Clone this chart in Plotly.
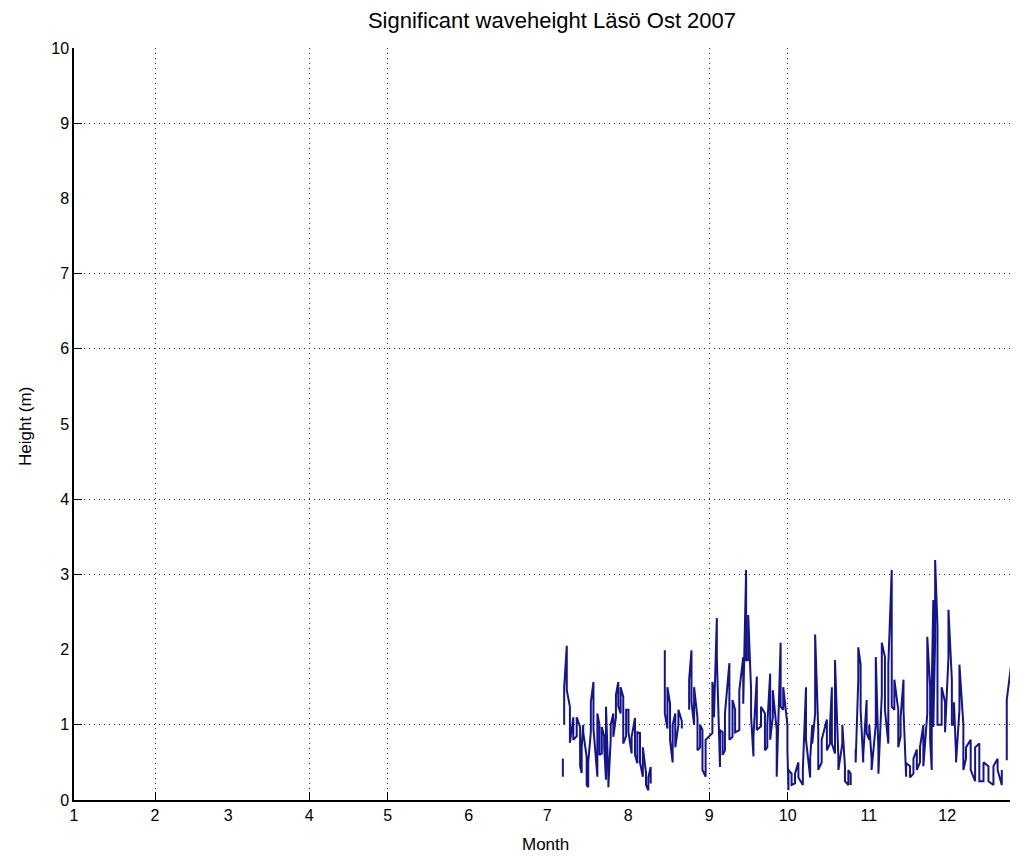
import plotly.graph_objects as go

# ---- data (day of year 2007, significant wave height m) ----
# each entry is one near-vertical stroke of the hourly record: start value -> end value
# None marks a gap in the record
days = [188.0, None,
        188.5, 189.5, 190.7, 192.0, 193.3, 194.6, 195.2, 195.8, 197.1, 197.7,
        198.7, 199.7, 201.2, 202.0, 202.9, 203.8, 204.5, 205.4, 206.3, 207.3,
        208.3, 209.2, 210.1, 211.1, 212.2, 213.1, 214.3, 215.6, 216.5, 217.5,
        218.6, 219.8, 220.7, 221.6, None,
        227.0, 228.0, 229.0, 230.0, 231.0, 232.2, 233.5, None,
        236.3, 237.2, 238.2, 239.5, 240.5, 241.4, 242.6, 245.2, 245.8, 246.9,
        248.1, 249.1, 250.0, 251.7, 252.9, 253.9, 255.5, 257.0, 258.1, 258.9,
        260.0, 260.9, 262.2, 263.8, 265.3, 266.2, 267.3, 268.3, 269.8, 271.3,
        272.3, 273.9, 274.3, 275.5, 276.8, 278.1, 279.8, 281.0, 282.6, 283.4,
        284.5, 285.7, 287.0, 289.0, 290.2, 290.9, 292.1, 293.4, 294.9, 295.9,
        297.2, 298.1, None,
        300.0, 301.0, 301.9, 302.9, 304.2, 305.2, 306.1, 307.7, 308.7, 310.0,
        311.2, 312.5, 313.8, 314.8, 316.3, 317.2, 318.3, 319.3, 320.8, 322.1,
        323.4, 324.6, 325.9, 327.4, 328.5, 329.1, 329.7, 330.4, 331.3, 332.9,
        334.2, 335.5, 336.8, 337.6, 338.4, 339.7, 341.2, 342.2, 344.0, 345.7,
        347.3, 348.9, 350.8, 352.7, 354.3, 355.9, None,
        357.8, 359.7, 361.4]

hs_start = [0.31, None,
            1.00, 2.05, 1.24, 1.10, 0.85, 0.97, 0.36, 1.00, 0.57, 0.17,
            0.90, 1.57, 0.31, 1.00, 0.62, 0.85, 0.27, 0.30, 0.80, 1.15,
            1.10, 1.57, 1.15, 1.37, 0.85, 1.20, 0.62, 1.09, 0.49, 0.89,
            0.31, 0.36, 0.13, 0.44, None,
            1.99, 0.95, 1.28, 0.50, 1.15, 1.00, 1.05, None,
            1.20, 1.99, 1.00, 1.09, 0.70, 0.93, 0.31, 0.89, 1.40, 2.42,
            0.44, 0.90, 0.66, 1.82, 0.84, 1.20, 0.93, 1.90, 3.06, 1.86,
            1.46, 0.58, 1.64, 0.98, 1.15, 0.70, 1.68, 1.10, 0.93, 2.09,
            1.20, 1.00, 0.13, 0.35, 0.22, 0.50, 0.20, 1.50, 0.30, 1.00,
            1.15, 0.93, 0.50, 1.07, 0.75, 1.50, 0.62, 0.55, 0.75, 0.45,
            0.20, 0.35, None,
            0.67, 1.60, 1.80, 0.50, 1.33, 0.80, 0.55, 1.00, 0.65, 1.40,
            1.90, 0.75, 3.06, 1.20, 1.20, 0.85, 1.60, 0.31, 0.45, 0.35,
            0.67, 0.50, 1.00, 1.15, 1.50, 0.40, 2.66, 2.13, 2.30, 1.00,
            1.30, 1.90, 1.60, 1.00, 0.60, 1.20, 1.00, 0.55, 0.80, 0.25,
            0.75, 0.25, 0.45, 0.20, 0.55, 0.20, None,
            0.53, 1.86, 1.00]

hs_end = [0.55, None,
          1.50, 1.46, 0.76, 0.80, 1.10, 0.45, 0.70, 0.90, 0.20, 0.50,
          1.30, 0.95, 1.15, 0.60, 0.97, 0.70, 1.24, 0.17, 1.00, 0.84,
          1.40, 1.25, 1.50, 0.75, 1.20, 0.90, 0.84, 0.60, 0.90, 0.50,
          0.70, 0.20, 0.30, 0.22, None,
          1.15, 1.50, 0.80, 1.00, 0.70, 1.20, 0.95, None,
          1.60, 1.30, 1.50, 0.66, 1.00, 0.40, 0.80, 1.57, 1.10, 1.90,
          0.93, 0.60, 1.15, 0.80, 1.33, 0.90, 1.46, 1.28, 1.86, 2.46,
          1.11, 0.84, 0.93, 1.24, 0.66, 1.00, 0.80, 1.46, 0.31, 1.24,
          1.50, 0.66, 0.40, 0.20, 0.35, 0.30, 0.40, 0.80, 0.55, 0.75,
          2.20, 0.40, 0.80, 0.66, 1.00, 0.75, 1.86, 0.40, 1.00, 0.25,
          0.40, 0.20, None,
          0.50, 2.03, 1.20, 0.60, 0.89, 1.00, 0.40, 1.90, 0.35, 2.09,
          1.20, 1.80, 1.24, 1.60, 0.70, 1.10, 1.20, 0.49, 0.30, 0.55,
          0.40, 0.70, 0.45, 2.17, 0.80, 1.50, 0.97, 3.19, 1.00, 1.50,
          0.90, 2.53, 1.00, 1.30, 0.50, 1.80, 0.40, 0.70, 0.40, 0.70,
          0.25, 0.50, 0.25, 0.45, 0.40, 0.40, None,
          1.33, 1.33, 2.00]

month_days = [1, 32, 60, 91, 121, 152, 182, 213, 244, 274, 305, 335]
month_labels = ["1", "2", "3", "4", "5", "6", "7", "8", "9", "10", "11", "12"]
grid_month_days = [32, 91, 121, 244, 274]
y_ticks = [0, 1, 2, 3, 4, 5, 6, 7, 8, 9, 10]
y_grid = [1, 3, 4, 6, 7, 9]

title_text = "Significant waveheight Läsö Ost 2007"
x_label = "Month"
y_label = "Height (m)"

# ---- build the line (vertical strokes joined in time order) ----
xs, ys = [], []
for d, a, b in zip(days, hs_start, hs_end):
    if d is None:
        xs.append(None)
        ys.append(None)
    else:
        xs += [d, d]
        ys += [a, b]

X_RANGE = [1, 362.1]
Y_RANGE = [0, 10]
FONT = "Liberation Sans, Arial, sans-serif"

# page body has an 8px margin; size the figure so the axes land where the reference has them
W, H = 1010, 848

fig = go.Figure()
fig.add_trace(go.Scatter(x=xs, y=ys, mode="lines", connectgaps=False,
                         line=dict(color="#14148c", width=2),
                         showlegend=False, hoverinfo="skip"))
# empty trace to activate the overlay axes used for grid + tick marks
fig.add_trace(go.Scatter(x=[], y=[], xaxis="x2", yaxis="y2",
                         showlegend=False, hoverinfo="skip"))

grid_dash = "1px,4px"
fig.update_layout(
    width=W, height=H,
    margin=dict(l=66, r=0, t=40, b=56, pad=0),
    paper_bgcolor="white", plot_bgcolor="white",
    font=dict(family=FONT, size=16, color="black"),
    title=dict(text=title_text, x=544 / W, xref="container", xanchor="center",
               y=1 - 12 / H, yref="container", yanchor="middle",
               font=dict(family=FONT, size=22, color="black")),
    xaxis=dict(range=X_RANGE, tickmode="array", tickvals=month_days,
               ticktext=month_labels, ticks="", showgrid=False, zeroline=False,
               showline=True, linecolor="black", linewidth=1.5,
               tickfont=dict(size=16)),
    yaxis=dict(range=Y_RANGE, tickmode="array", tickvals=y_ticks, ticks="",
               showgrid=False, zeroline=False, showline=True,
               linecolor="black", linewidth=1.5, tickfont=dict(size=16)),
    xaxis2=dict(range=X_RANGE, overlaying="x", anchor="y2", side="bottom",
                tickmode="array", tickvals=grid_month_days, ticks="inside",
                ticklen=8, tickwidth=1.2, tickcolor="black",
                showticklabels=False, showgrid=True, gridcolor="#303030",
                gridwidth=1, griddash=grid_dash, zeroline=False, showline=False),
    yaxis2=dict(range=Y_RANGE, overlaying="y", anchor="x2", side="left",
                tickmode="array", tickvals=y_grid, ticks="inside",
                ticklen=8, tickwidth=1.2, tickcolor="black",
                showticklabels=False, showgrid=True, gridcolor="#303030",
                gridwidth=1, griddash=grid_dash, zeroline=False, showline=False),
    annotations=[
        dict(text=x_label, xref="paper", yref="paper", x=(545 - 74) / 944,
             y=(800 - 844) / 752, xanchor="center", yanchor="middle",
             showarrow=False, font=dict(family=FONT, size=17)),
        dict(text=y_label, xref="paper", yref="paper", x=(26 - 74) / 944,
             y=(800 - 427) / 752, xanchor="center", yanchor="middle",
             textangle=-90, showarrow=False, font=dict(family=FONT, size=17)),
    ],
)

fig.write_html("out.html")
